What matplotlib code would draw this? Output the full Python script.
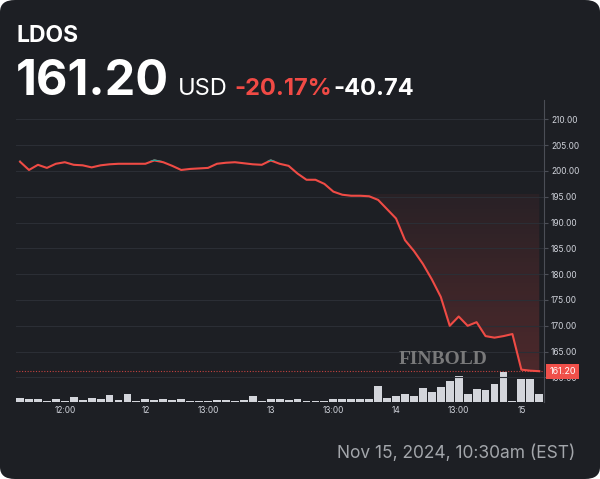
import numpy as np
import matplotlib.pyplot as plt
from matplotlib.patches import FancyBboxPatch, Rectangle

# LDOS, 30-min bars, Nov 11 09:30 -> Nov 15 10:30 (14 bars per day)
price = [201.8, 200.2, 201.2, 200.6, 201.4, 201.7, 201.2, 201.1, 200.7, 201.1,
         201.3, 201.4, 201.4, 201.4, 201.4, 202.05, 201.7, 201.0, 200.2, 200.4,
         200.5, 200.6, 201.4, 201.6, 201.7, 201.5, 201.3, 201.2, 202.05, 201.4,
         201.0, 199.5, 198.3, 198.3, 197.5, 196.0, 195.4, 195.2, 195.2, 195.1,
         194.4, 192.6, 190.8, 186.6, 184.5, 182.0, 179.0, 175.6, 170.0, 171.8,
         170.0, 170.7, 168.0, 167.7, 168.0, 168.4, 161.5, 161.3, 161.2]
volume = [3.7, 2.7, 2.7, 1.3, 2.7, 1.3, 5.0, 1.7, 4.0, 3.3,
          7.3, 2.0, 8.0, 0.7, 2.7, 1.7, 2.7, 1.7, 2.7, 1.0,
          1.0, 1.0, 2.0, 2.0, 1.0, 1.7, 5.7, 1.0, 2.7, 2.7,
          2.3, 2.7, 1.3, 1.3, 1.3, 2.7, 3.3, 2.7, 3.3, 3.3,
          15.7, 3.7, 6.3, 8.0, 5.7, 13.7, 10.0, 14.7, 21.0, 26.0,
          8.3, 13.3, 12.0, 18.3, 30.0, 0.7, 23.3, 23.3, 8.3]
prev_close = 201.94
last = 161.20
xtick_pos = [5, 14, 21, 28, 35, 42, 49, 56]
xtick_lab = ['12:00', '12', '13:00', '13', '13:00', '14', '13:00', '15']
yticks = [160, 165, 170, 175, 180, 185, 190, 195, 200, 205, 210]

bg = '#1d1f24'
red = '#ef4b45'
teal = '#26a69a'
W, H = 600, 479

x = np.arange(len(price))
price = np.array(price)

fig = plt.figure(figsize=(6, 4.79), dpi=100)
fig.patch.set_facecolor('white')
fig.patches.append(FancyBboxPatch((0, 0), 1, 1, boxstyle='round,pad=0,rounding_size=0.025',
                                  transform=fig.transFigure, fc=bg, ec='none', zorder=0))

rect = [16 / W, 1 - 402 / H, 528 / W, 302 / H]
ax_vol = fig.add_axes(rect, zorder=1)
ax = fig.add_axes(rect, zorder=2)
ax.set_facecolor('none')
ax_vol.set_facecolor('none')

xlim = (-0.45, 58.53)

# volume bars
ax_vol.bar(x, volume, width=0.88, color='#d3d5db', linewidth=0)
ax_vol.set_xlim(xlim)
ax_vol.set_ylim(0, 302)
ax_vol.axis('off')

# price axes
ylo, yhi = 155.23, 213.76
ax.set_xlim(xlim)
ax.set_ylim(ylo, yhi)

# gradient fill under the baseline
poly = ax.fill_between(x, price, prev_close, facecolor='none', edgecolor='none')
levels = np.linspace(ylo, prev_close, 300)
alpha = np.where(levels > 195.5, 0.0, 0.06 + (195.5 - levels) / (195.5 - 161) * 0.17)
grad = np.zeros((300, 1, 4))
grad[..., 0], grad[..., 1], grad[..., 2] = 0.94, 0.29, 0.27
grad[:, 0, 3] = np.clip(alpha, 0, 0.25)
img = ax.imshow(grad, extent=[xlim[0], xlim[1], ylo, prev_close], origin='lower',
                aspect='auto', zorder=1)
img.set_clip_path(poly.get_paths()[0], transform=ax.transData)

ax.plot(x, price, color=red, lw=1.5, zorder=3, solid_joinstyle='round')
tl, = ax.plot(x, price, color=teal, lw=1.5, zorder=4, solid_joinstyle='round')
tl.set_clip_path(Rectangle((xlim[0], prev_close), xlim[1] - xlim[0], 50, transform=ax.transData))

ax.axhline(last, color=red, ls=(0, (1, 1.5)), lw=0.8, alpha=0.8, zorder=2)

ax.yaxis.tick_right()
ax.set_yticks(yticks)
ax.set_yticklabels([f'{v:.2f}' for v in yticks])
ax.set_xticks(xtick_pos)
ax.set_xticklabels(xtick_lab)
ax.grid(axis='y', color='#2b2e35', lw=0.8, zorder=0)
ax.tick_params(axis='y', colors='#4b4e56', length=3, width=0.8, pad=2,
               labelcolor='#d1d4dc', labelsize=6, labelfontfamily='Inter')
ax.tick_params(axis='x', length=0, pad=3, labelcolor='#d1d4dc', labelsize=6,
               labelfontfamily='Inter')
for s in ['top', 'left', 'bottom']:
    ax.spines[s].set_visible(False)
ax.spines['right'].set_color('#4b4e56')
ax.spines['right'].set_linewidth(0.8)

# last price tag on the axis (covers the 160.00 label, as in the source)
ax.annotate(f'{last:.2f}', xy=(1, last), xycoords=('axes fraction', 'data'),
            xytext=(4, 0), textcoords='offset points', ha='left', va='center',
            fontsize=6.5, color='white', family='Inter', zorder=10, annotation_clip=False,
            bbox=dict(boxstyle='square,pad=0.35', fc='#f0504a', ec='none'))

fig.text(443 / W, 1 - 360 / H, 'FINBOLD', ha='center', va='center', fontsize=14,
         family='Liberation Serif', weight='bold', color='#8a8a8a', alpha=0.85, zorder=5)

# header
fig.text(16 / W, 1 - 42 / H, 'LDOS', fontsize=16.5, weight='bold', color='white', family='Inter')
fig.text(16 / W, 1 - 95 / H, f'{last:.2f}', fontsize=35, weight='bold', color='white', family='Inter')
fig.text(178 / W, 1 - 95 / H, 'USD', fontsize=17, color='white', family='Inter')
fig.text(234 / W, 1 - 95 / H, '-20.17%', fontsize=17, weight='bold', color='#f04a45', family='Inter')
fig.text(333 / W, 1 - 95 / H, '-40.74', fontsize=17, weight='bold', color='white', family='Inter')
fig.text(575 / W, 1 - 458 / H, 'Nov 15, 2024, 10:30am (EST)', ha='right', fontsize=12.5,
         color='#a3a6ab', family='Inter')

fig.savefig('out.png', dpi=100, facecolor=fig.get_facecolor())
